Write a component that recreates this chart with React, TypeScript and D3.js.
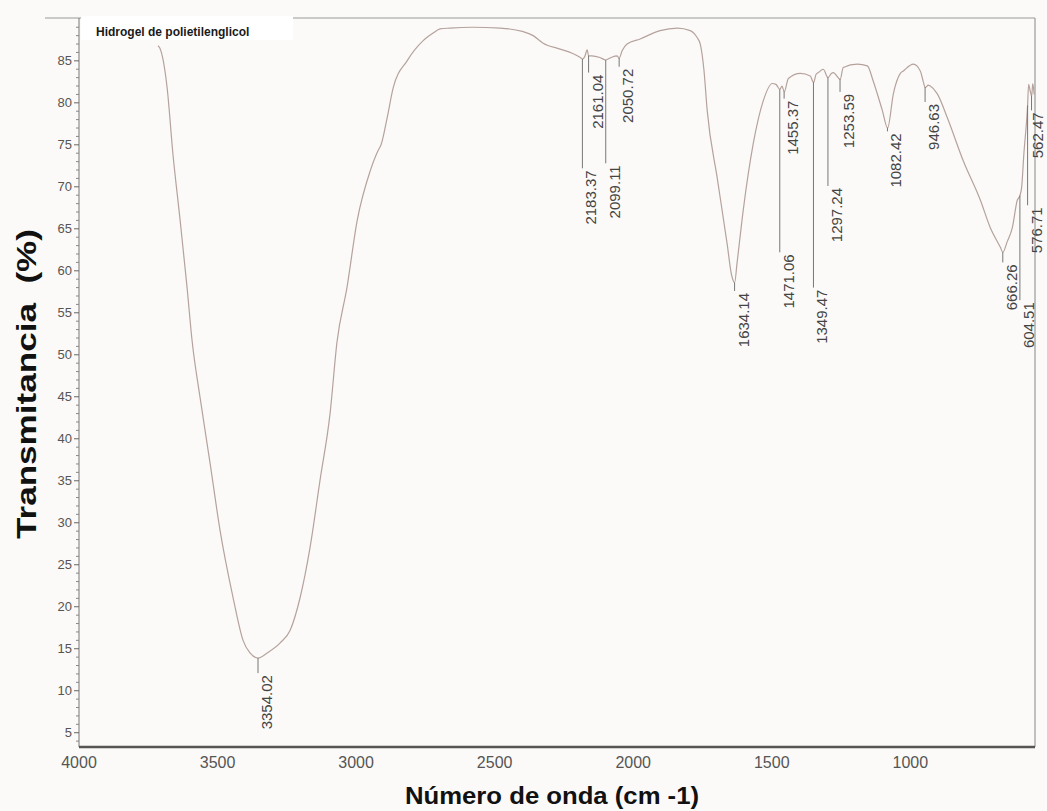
import * as React from "react";
import * as d3 from "d3";

// spectrum: [wavenumber cm-1, transmittance %]
const spectrum: [number, number][] = [
  [3715, 86.8], [3708, 86.5], [3682, 81.8], [3661, 73.9], [3635, 66.0],
  [3610, 58.0], [3592, 51.7], [3563, 44.9], [3527, 37.1], [3491, 29.1],
  [3444, 21.1], [3408, 16.0], [3383, 14.5], [3354, 13.9], [3321, 14.5],
  [3274, 15.7], [3238, 17.2], [3202, 21.1], [3166, 27.1], [3130, 35.1],
  [3094, 43.0], [3069, 51.5], [3033, 58.0], [2996, 66.0], [2949, 71.9],
  [2921, 74.3], [2910, 75.0], [2888, 78.2], [2866, 81.8], [2816, 85.0],
  [2758, 87.4], [2722, 88.3], [2697, 88.8], [2661, 88.9], [2580, 89.0],
  [2480, 88.9], [2400, 88.5], [2361, 88.0], [2325, 87.1], [2264, 86.4],
  [2220, 85.9], [2191, 85.4], [2183, 85.2], [2175, 85.5], [2166, 86.3],
  [2161, 85.6], [2150, 85.6], [2120, 85.4], [2099, 85.1], [2080, 85.4],
  [2058, 85.6], [2051, 85.3], [2040, 86.2], [2022, 87.0], [1975, 87.6],
  [1903, 88.6], [1841, 88.9], [1794, 88.6], [1770, 87.8], [1758, 87.0],
  [1745, 84.0], [1733, 79.1], [1697, 71.1], [1661, 63.2], [1645, 59.5],
  [1634, 58.6], [1625, 61.0], [1603, 67.2], [1567, 75.1], [1531, 80.2],
  [1498, 82.3], [1485, 82.2], [1471, 81.6], [1463, 82.0], [1455, 81.3],
  [1440, 82.9], [1397, 83.5], [1361, 83.2], [1349, 82.4], [1340, 83.4],
  [1332, 83.6], [1314, 84.0], [1297, 83.0], [1285, 83.5], [1278, 83.6],
  [1253, 82.8], [1242, 84.2], [1191, 84.6], [1155, 84.4], [1134, 82.6],
  [1101, 79.1], [1082, 77.0], [1061, 81.1], [1036, 83.5], [1025, 83.8],
  [989, 84.6], [964, 83.8], [953, 82.5], [946, 81.8], [935, 82.1],
  [928, 82.0], [903, 81.1], [866, 78.2], [809, 73.1], [747, 68.4],
  [711, 65.1], [675, 62.8], [666, 62.2], [650, 63.5], [632, 65.1],
  [614, 68.4], [604, 69.0], [598, 70.0], [590, 74.0], [580, 78.0],
  [577, 79.5], [573, 82.2], [568, 81.5], [562, 80.8], [558, 82.3],
  [553, 81.0],
];

const peakWavenumbers = [
  3354.02, 2183.37, 2161.04, 2099.11, 2050.72, 1634.14, 1471.06, 1455.37,
  1349.47, 1297.24, 1253.59, 1082.42, 946.63, 666.26, 604.51, 576.71, 562.47,
];
// transmittance where each leader line ends / label starts
const peakLabelEnds = [
  12.1, 72.2, 83.6, 72.8, 84.3, 57.6, 62.2, 80.5,
  58.0, 70.1, 81.3, 76.6, 80.1, 61.0, 56.5, 67.8, 79.1,
];

const xTicks = [4000, 3500, 3000, 2500, 2000, 1500, 1000];
const yTicks = [5, 10, 15, 20, 25, 30, 35, 40, 45, 50, 55, 60, 65, 70, 75, 80, 85];

const W = 1047;
const H = 811;
const left = 79;
const right = 1035;
const top = 18;
const bottom = 747;

const font = "'Liberation Sans', Arial, Helvetica, sans-serif";

function tAt(wn: number) {
  for (let i = 0; i < spectrum.length - 1; i++) {
    const [w0, t0] = spectrum[i];
    const [w1, t1] = spectrum[i + 1];
    if (wn <= w0 && wn >= w1) {
      return t0 + ((w0 - wn) / (w0 - w1)) * (t1 - t0);
    }
  }
  return spectrum[spectrum.length - 1][1];
}

export default function App() {
  const x = d3.scaleLinear().domain([4000, 550]).range([left, right]);
  const y = d3.scaleLinear().domain([3.3, 90.1]).range([bottom, top]);

  const line = d3
    .line<[number, number]>()
    .x((d) => x(d[0]))
    .y((d) => y(d[1]))
    .curve(d3.curveMonotoneX);

  const minor = d3.range(4, 91, 1).filter((v) => v % 5 !== 0);

  return (
    <svg
      width={W}
      height={H}
      style={{ position: "absolute", left: 0, top: 0 }}
      fontFamily={font}
    >
      <rect width={W} height={H} fill="#fbfaf8" />

      {/* frame */}
      <line x1={45} x2={right} y1={top} y2={top} stroke="#999" strokeWidth={1.2} />
      <line x1={right} x2={right} y1={top} y2={bottom} stroke="#999" strokeWidth={1.2} />
      <rect x={81} y={top - 2} width={212} height={24} fill="#ffffff" />
      <text x={96} y={36} fontSize={12} fontWeight="bold" fill="#1a1a1a">
        Hidrogel de polietilenglicol
      </text>

      {/* y axis */}
      <line x1={left} x2={left} y1={top} y2={bottom} stroke="#777" strokeWidth={1} />
      {minor.map((v) => (
        <line key={"m" + v} x1={left - 3} x2={left} y1={y(v)} y2={y(v)} stroke="#888" />
      ))}
      {yTicks.map((v) => (
        <g key={"y" + v}>
          <line x1={left - 5} x2={left} y1={y(v)} y2={y(v)} stroke="#666" />
          <text
            x={left - 7}
            y={y(v)}
            dy="0.35em"
            textAnchor="end"
            fontSize={13}
            fill="#555"
          >
            {v}
          </text>
        </g>
      ))}

      {/* x axis */}
      <line x1={left} x2={right} y1={bottom} y2={bottom} stroke="#555" strokeWidth={2.5} />
      {xTicks.map((v) => (
        <text
          key={"x" + v}
          x={x(v)}
          y={bottom + 21}
          textAnchor="middle"
          fontSize={16}
          fontFamily="'Liberation Sans Narrow', 'Arial Narrow', sans-serif"
          fill="#555"
        >
          {v}
        </text>
      ))}

      {/* spectrum */}
      <path d={line(spectrum) ?? ""} fill="none" stroke="#b5a29c" strokeWidth={1.2} />

      {/* peak labels */}
      {peakWavenumbers.map((wn, i) => {
        const px = x(wn);
        const y0 = y(tAt(wn));
        const y1 = y(peakLabelEnds[i]);
        return (
          <g key={"p" + wn}>
            <line x1={px} x2={px} y1={y0} y2={y1} stroke="#777" strokeWidth={1} />
            <text
              transform={`translate(${Math.min(px + 14, W - 4)},${y1 + 2}) rotate(-90)`}
              textAnchor="end"
              fontSize={15}
              fill="#444"
            >
              {wn.toFixed(2)}
            </text>
          </g>
        );
      })}

      {/* axis titles */}
      <text
        transform={`translate(36,384) rotate(-90)`}
        textAnchor="middle"
        fontSize={28}
        fontWeight="bold"
        fill="#111"
        textLength={310}
        lengthAdjust="spacingAndGlyphs"
        style={{ whiteSpace: "pre" }}
      >
        {"Transmitancia  (%)"}
      </text>
      <text
        x={552}
        y={804}
        textAnchor="middle"
        fontSize={24}
        fontWeight="bold"
        fill="#111"
        textLength={294}
        lengthAdjust="spacingAndGlyphs"
      >
        Número de onda (cm -1)
      </text>
    </svg>
  );
}
